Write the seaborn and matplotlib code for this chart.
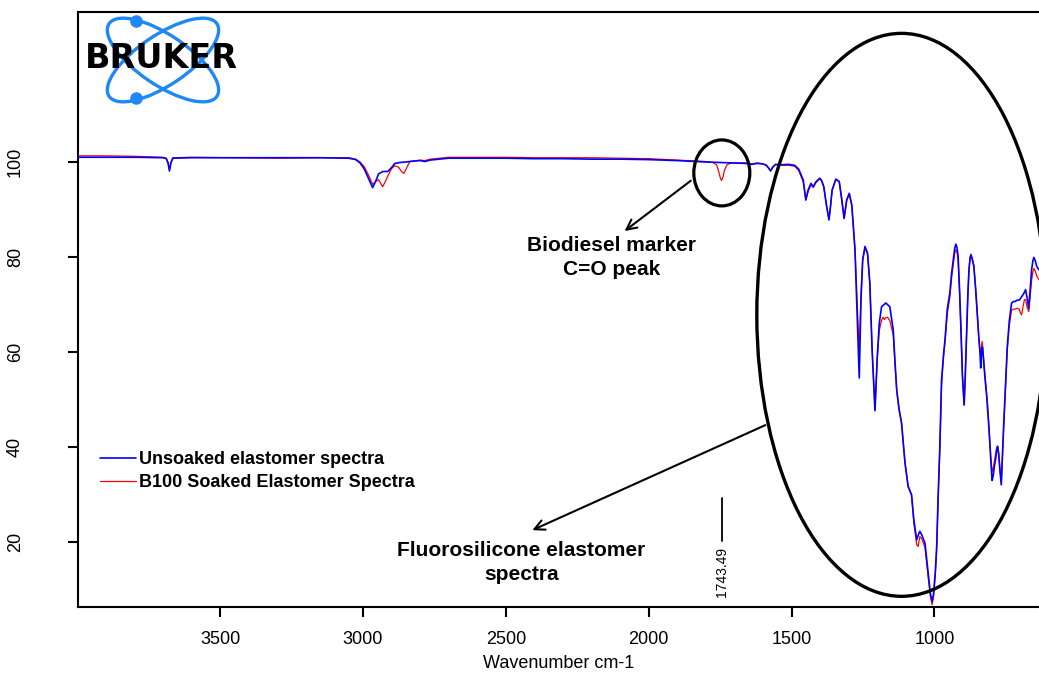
import numpy as np
import pandas as pd
import matplotlib
matplotlib.use("Agg")
import matplotlib.pyplot as plt
import seaborn as sns
from matplotlib.patches import Ellipse

# ---------------- data ----------------
wn_unsoaked = [3997, 3900, 3800, 3700, 3688, 3682, 3677, 3672, 3665, 3600, 3450, 3300, 3150, 3050,
               3025, 3010, 2995, 2980, 2966, 2955, 2945, 2930, 2913, 2900, 2888, 2870, 2850, 2836,
               2800, 2783, 2765, 2700, 2600, 2500, 2400, 2300, 2200, 2100, 2000, 1900, 1800, 1750,
               1700, 1660, 1640, 1620, 1600, 1588, 1580, 1573, 1566, 1556, 1541, 1510, 1489, 1475,
               1459, 1450, 1442, 1432, 1424, 1415, 1401, 1394, 1387, 1378, 1369, 1363, 1358, 1345,
               1333, 1324, 1316, 1307, 1298, 1289, 1278, 1270, 1263, 1257, 1251, 1243, 1234, 1226,
               1218, 1208, 1200, 1193, 1185, 1170, 1156, 1144, 1138, 1132, 1124, 1115, 1103, 1092,
               1080, 1072, 1062, 1056, 1051, 1044, 1033, 1022, 1014, 1008, 1003, 997, 992, 987,
               981, 975, 968, 963, 955, 946, 940, 934, 929, 925, 921, 917, 912, 907, 902, 896, 892,
               887, 883, 879, 875, 872, 868, 862, 856, 850, 845, 841, 838, 835, 832, 829, 823, 817,
               811, 806, 802, 798, 794, 790, 786, 782, 779, 775, 771, 766, 762, 758, 753, 749, 745,
               738, 730, 724, 718, 710, 703, 695, 688, 681, 676, 670, 665, 660, 655, 652, 647, 642,
               634]
t_unsoaked = [101.0, 101.0, 101.0, 100.9, 100.7, 99.8, 98.1, 99.8, 100.8, 100.9, 100.9, 100.9, 100.9, 100.8,
              100.5, 99.8, 98.5, 96.5, 94.6, 96.0, 97.5, 98.0, 98.0, 98.8, 99.7, 99.9, 100.0, 100.1,
              100.3, 100.1, 100.4, 100.8, 100.8, 100.8, 100.7, 100.7, 100.6, 100.6, 100.5, 100.3, 100.0, 99.9,
              99.8, 99.7, 99.5, 99.7, 99.6, 99.3, 98.7, 98.1, 98.9, 99.5, 99.4, 99.5, 99.3, 98.5,
              96.2, 92.0, 94.1, 95.5, 94.8, 95.8, 96.6, 96.0, 94.8, 91.0, 87.8, 91.0, 94.1, 96.4,
              95.9, 92.0, 88.1, 92.0, 93.4, 90.9, 81.5, 67.4, 54.5, 70.9, 79.4, 82.2, 80.8, 74.5,
              60.4, 47.6, 59.0, 66.0, 69.5, 70.3, 69.5, 64.6, 58.0, 52.0, 48.0, 45.0, 36.6, 31.6,
              29.9, 24.6, 20.4, 21.5, 22.2, 21.4, 19.7, 13.4, 9.0, 7.4, 9.0, 13.5, 19.0, 29.5,
              40.1, 54.1, 59.5, 62.5, 69.0, 72.4, 76.5, 79.4, 81.8, 82.7, 82.0, 80.1, 73.0, 64.6, 55.0, 48.8, 55.0,
              64.6, 72.0, 77.3, 79.8, 80.4, 79.6, 78.0, 73.5, 68.1, 63.5, 60.4, 56.6, 60.0, 61.0, 59.0, 54.5, 50.6,
              45.5, 40.8, 36.5, 32.9, 34.0, 36.0, 37.3, 39.3, 40.1, 38.5, 35.2, 32.0, 38.0, 44.0, 50.6, 56.0, 61.1,
              66.5, 70.3, 70.6, 70.6, 70.9, 70.9, 71.6, 72.2, 73.1, 71.5, 69.2, 73.0, 77.3, 79.3, 79.9, 79.2, 78.0,
              77.3]

wn_soaked = [3997, 3900, 3800, 3700, 3688, 3682, 3677, 3672, 3665, 3600, 3450, 3300, 3150, 3050,
             3025, 3010, 2995, 2980, 2966, 2955, 2945, 2938, 2931, 2922, 2913, 2900, 2888, 2875,
             2865, 2857, 2848, 2836, 2800, 2783, 2765, 2700, 2600, 2500, 2400, 2300, 2200, 2100,
             2000, 1900, 1800, 1775, 1762, 1754, 1749, 1745, 1740, 1735, 1726, 1712, 1700, 1660,
             1640, 1620, 1600, 1588, 1580, 1573, 1566, 1556, 1541, 1510, 1489, 1475,
             1459, 1450, 1442, 1432, 1424, 1415, 1401, 1394, 1387, 1378, 1369, 1363, 1358, 1345,
             1333, 1324, 1316, 1307, 1298, 1289, 1278, 1270, 1263, 1257, 1251, 1243, 1234, 1226,
             1218, 1208, 1200, 1193, 1185, 1180, 1175, 1170, 1164, 1156, 1144, 1138, 1132, 1124,
             1115, 1103, 1092, 1080, 1072, 1062, 1057, 1051, 1044, 1033, 1022, 1014, 1008, 1003,
             997, 992, 987, 981, 975, 968, 963, 955, 946, 940, 934, 929, 925, 921, 917, 912, 907,
             902, 896, 892, 887, 883, 879, 875, 872, 868, 862, 856, 850, 845, 841, 837, 833, 830,
             826, 820, 814, 808, 803, 798, 794, 790, 786, 782, 779, 775, 771, 766, 762, 758, 753,
             749, 745, 738, 730, 724, 718, 710, 703, 699, 695, 690, 685, 681, 676, 670, 665, 660,
             655, 652, 647, 642, 634]
t_soaked = [101.3, 101.3, 101.2, 101.0, 100.8, 99.9, 98.5, 99.9, 100.9, 101.0, 100.9, 100.8, 100.9, 100.9,
            100.6, 100.0, 99.0, 97.2, 95.3, 95.9, 96.3, 95.5, 94.8, 95.8, 97.0, 98.6, 99.2, 98.9,
            98.0, 97.6, 98.6, 100.1, 100.4, 100.3, 100.6, 101.0, 101.0, 101.0, 100.9, 100.9, 100.9, 100.8,
            100.7, 100.4, 100.1, 99.9, 99.4, 97.8, 96.6, 96.1, 96.8, 98.2, 99.4, 99.8, 99.8, 99.8,
            99.6, 99.8, 99.6, 99.3, 98.7, 98.2, 98.9, 99.5, 99.3, 99.3, 99.1, 98.2,
            95.8, 92.0, 93.8, 95.2, 94.6, 95.6, 96.5, 95.9, 94.6, 90.9, 87.9, 91.0, 94.0, 96.3,
            95.8, 91.9, 88.2, 91.9, 93.3, 90.8, 81.8, 70.0, 59.7, 72.0, 79.2, 82.0, 80.6, 74.3,
            60.6, 47.9, 58.5, 64.5, 66.6, 67.3, 66.8, 67.2, 67.3, 66.6, 63.5, 57.5, 52.0, 48.0,
            45.0, 36.8, 31.8, 29.8, 24.0, 19.4, 19.0, 21.1, 20.6, 18.8, 12.6, 8.5, 6.7, 8.5,
            13.0, 18.5, 29.0, 39.5, 53.0, 59.0, 62.0, 68.0, 71.5, 75.5, 78.5, 80.7, 81.5, 81.0, 79.2, 72.5, 64.6,
            55.0, 48.8, 55.0, 64.6, 72.0, 77.5, 80.0, 80.6, 79.8, 78.2, 73.5, 68.0, 63.0, 60.0, 60.5, 62.2, 60.5,
            57.0, 53.0, 49.0, 43.0, 38.0, 34.8, 35.5, 37.0, 38.5, 39.8, 40.1, 38.5, 35.5, 32.5, 38.0, 44.0, 50.3,
            55.5, 60.5, 65.5, 68.8, 69.0, 69.0, 69.2, 69.0, 68.2, 67.8, 69.5, 71.0, 71.0, 69.5, 68.5, 71.5, 75.0,
            77.0, 77.6, 77.0, 76.0, 75.2]

series_labels = ["Unsoaked elastomer spectra", "B100 Soaked Elastomer Spectra"]
x_ticks = [3500, 3000, 2500, 2000, 1500, 1000]
y_ticks = [20, 40, 60, 80, 100]
marker_wn = 1743.49
marker_text = "1743.49"
x_label = "Wavenumber cm-1"
note_biodiesel = "Biodiesel marker\nC=O peak"
note_fluoro = "Fluorosilicone elastomer\nspectra"
logo_text = "BRUKER"

# ---------------- style ----------------
sns.set_theme(style="white")
plt.rcParams['font.family'] = ['Liberation Sans', 'DejaVu Sans']
plt.rcParams['text.color'] = 'black'
plt.rcParams['axes.labelcolor'] = 'black'

BLUE = "#0000FF"
RED = "#FF0000"

fig = plt.figure(figsize=(10.39, 6.75), dpi=100)
ax = fig.add_axes([78 / 1039, 68 / 675, 961 / 1039, 595 / 675])

df_u = pd.DataFrame({"wn": wn_unsoaked, "T": t_unsoaked})
df_s = pd.DataFrame({"wn": wn_soaked, "T": t_soaked})

sns.lineplot(data=df_s, x="wn", y="T", ax=ax, color=RED, lw=0.9,
             estimator=None, sort=False, label=series_labels[1], zorder=3)
sns.lineplot(data=df_u, x="wn", y="T", ax=ax, color=BLUE, lw=1.2,
             estimator=None, sort=False, label=series_labels[0], zorder=4)

ax.set_xlim(3997, 634)
ax.set_ylim(6.25, 131.6)
ax.set_xticks(x_ticks)
ax.set_yticks(y_ticks)
ax.set_xlabel(x_label, fontsize=13, color="black")
ax.set_ylabel("")
ax.xaxis.set_label_coords(0.5, -0.081)

for side in ["left", "bottom", "top"]:
    ax.spines[side].set_visible(True)
    ax.spines[side].set_color("black")
    ax.spines[side].set_linewidth(1.5)
ax.spines["right"].set_visible(False)

ax.tick_params(axis="x", direction="out", length=7, width=1.5, pad=10,
               labelsize=13, colors="black", bottom=True)
ax.tick_params(axis="y", direction="out", length=7, width=1.5, pad=32,
               labelsize=13, colors="black", left=True)
for lbl in ax.get_yticklabels():
    lbl.set_rotation(90)
    lbl.set_va("center")
    lbl.set_ha("right")

# legend (unsoaked first)
h, l = ax.get_legend_handles_labels()
order = [l.index(series_labels[0]), l.index(series_labels[1])]
leg = ax.legend([h[i] for i in order], [l[i] for i in order], loc="upper left",
                bbox_to_anchor=(0.0229, 0.262), frameon=False, borderpad=0,
                borderaxespad=0, handlelength=2.0, handletextpad=0.15,
                labelspacing=0.33, prop={"weight": "bold", "size": 13})
for t in leg.get_texts():
    t.set_color("black")

# annotations: circle / ellipse / arrows / texts
ax.add_patch(Ellipse((1744, 97.7), width=196, height=13.9, fill=False,
                     ec="black", lw=2.3, zorder=5, clip_on=False))
ax.add_patch(Ellipse((1115, 67.8), width=1013, height=118.6, fill=False,
                     ec="black", lw=2.4, zorder=5, clip_on=False))

ax.annotate("", xy=(2092, 85.1), xytext=(1845, 96.4),
            arrowprops=dict(arrowstyle="->", lw=1.5, color="black", mutation_scale=18))
ax.annotate("", xy=(2416, 22.2), xytext=(1583, 44.8),
            arrowprops=dict(arrowstyle="->", lw=1.5, color="black", mutation_scale=18))

ax.text(2130, 79.9, note_biodiesel, ha="center", va="center", fontsize=15,
        fontweight="bold", linespacing=1.32, zorder=6, color="black")
ax.text(2445, 15.6, note_fluoro, ha="center", va="center", fontsize=15,
        fontweight="bold", linespacing=1.32, zorder=6, color="black")

ax.plot([marker_wn, marker_wn], [20.2, 29.3], color="black", lw=1.3)
ax.text(marker_wn, 13.6, marker_text, rotation=90, ha="center", va="center",
        fontsize=10, color="black")

# ---------------- Bruker logo (figure pixel overlay) ----------------
ov = fig.add_axes([0, 0, 1, 1], zorder=10)
ov.set_xlim(0, 1039)
ov.set_ylim(675, 0)
ov.axis("off")
ov.patch.set_alpha(0)
LOGO = "#1E88F5"
ov.add_patch(Ellipse((163, 60), width=130, height=50, angle=34, fill=False,
                     ec=LOGO, lw=2.4))
ov.add_patch(Ellipse((163, 60), width=130, height=50, angle=-34, fill=False,
                     ec=LOGO, lw=2.4))
ov.plot([136, 136], [21, 98], "o", ms=8, color=LOGO)
ov.text(161, 59, logo_text, ha="center", va="center", fontsize=24,
        fontweight="bold", family="DejaVu Sans", color="black", zorder=12)

fig.savefig("out.png", dpi=100)
